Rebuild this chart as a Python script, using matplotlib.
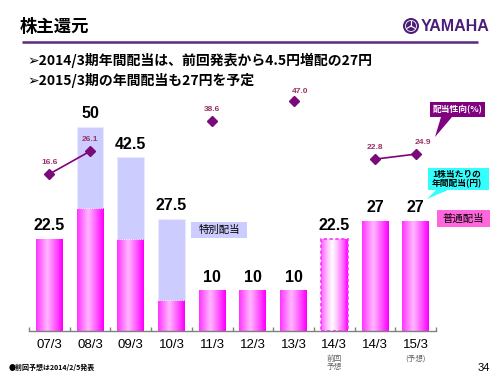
import numpy as np
import matplotlib
matplotlib.use("Agg")
import matplotlib.pyplot as plt
from matplotlib.patches import Rectangle, Polygon, Circle

# ---------------- data ----------------
categories = ['07/3', '08/3', '09/3', '10/3', '11/3', '12/3', '13/3', '14/3', '14/3', '15/3']
ordinary = [22.5, 30, 22.5, 7.5, 10, 10, 10, 22.5, 27, 27]
special = [0, 20, 20, 20, 0, 0, 0, 0, 0, 0]
payout = [16.6, 26.1, np.nan, np.nan, 38.6, np.nan, 47.0, np.nan, 22.8, 24.9]
forecast_index = 7
sub_labels = {7: '前回\n予想', 9: '(予想)'}

JP = ['Noto Sans CJK JP', 'DejaVu Sans']
LAT = ['Liberation Sans', 'Noto Sans CJK JP', 'DejaVu Sans']

W, H = 500, 375
fig = plt.figure(figsize=(5, 3.75), dpi=100)
fig.patch.set_facecolor('white')

# main axes (pixel layout)
left_px, right_px, base_px, top_px = 29, 436, 331, 95
ax = fig.add_axes([left_px / W, 1 - base_px / H, (right_px - left_px) / W, (base_px - top_px) / H])
ax.set_facecolor('none')

x = np.arange(len(categories))
bw = 0.66
totals = [o + s for o, s in zip(ordinary, special)]


def grad(light, power=1.0):
    t = np.linspace(0, 1, 80)
    w = np.clip(1 - np.abs(t - 0.42) / 0.55, 0, 1) ** power
    base = np.array([1.0, 0.0, 1.0])
    top = np.array(light)
    img = base[None, :] + (top - base)[None, :] * w[:, None]
    return img[None, :, :]


ord_bars = ax.bar(x, ordinary, width=bw, color='none', edgecolor='none', zorder=2)
for i, p in enumerate(ord_bars.patches):
    x0, y0 = p.get_x(), p.get_y()
    x1, y1 = x0 + p.get_width(), y0 + p.get_height()
    if i == forecast_index:
        img = grad([1.0, 1.0, 1.0], 0.7)
    else:
        img = grad([1.0, 0.72, 1.0], 0.9)
    im = ax.imshow(img, extent=[x0, x1, y0, y1], aspect='auto', interpolation='bilinear', zorder=2)
    im.set_clip_path(p)
    if i == forecast_index:
        ax.add_patch(Rectangle((x0, y0), x1 - x0, y1 - y0, facecolor='none',
                               edgecolor='#FF33FF', linestyle=(0, (2, 1.5)), linewidth=1.2, zorder=3))

sp = ax.bar(x, special, width=bw, bottom=ordinary, color='#CCCCFF',
            edgecolor='#EEEEFF', linestyle=(0, (1, 1)), linewidth=0.8, zorder=2)
for i, p in enumerate(sp.patches):
    if special[i] == 0:
        p.set_visible(False)

for i, t in enumerate(totals):
    ax.annotate(f"{t:g}", (x[i], t), xytext=(0, 4), textcoords='offset points',
                ha='center', va='bottom', fontsize=11.5, fontweight='bold',
                family=LAT, color='black', zorder=5)

ax.set_xlim(-0.5, len(categories) - 0.5)
ax.set_ylim(0, (base_px - top_px) / 4.09)
for s in ['top', 'right', 'left']:
    ax.spines[s].set_visible(False)
ax.spines['bottom'].set_color('#808080')
ax.spines['bottom'].set_linewidth(1.0)
ax.set_yticks([])
ax.set_xticks(x)
ax.set_xticklabels(categories, fontsize=9.5, family=LAT)
ax.tick_params(axis='x', which='major', length=0, pad=6)
ax.set_xticks(np.arange(-0.5, len(categories), 1.0), minor=True)
ax.tick_params(axis='x', which='minor', direction='in', length=3, color='#808080', width=1.0)

# secondary axis for payout ratio
ax2 = ax.twinx()
ax2.set_ylim((213.9 - base_px) / 2.401, (213.9 - top_px) / 2.401)
ax2.set_xlim(-0.5, len(categories) - 0.5)
ax2.axis('off')
ax2.plot(x, payout, color='#800080', linewidth=1.2, marker='D', markersize=5,
         markerfacecolor='#7A0A7A', markeredgecolor='#7A0A7A', zorder=4)
offs = {6: (5, 4), 9: (5, 6)}
for i, v in enumerate(payout):
    if np.isnan(v):
        continue
    dx, dy = offs.get(i, (0, 6))
    ax2.annotate(f"{v:.1f}", (x[i], v), xytext=(dx, dy), textcoords='offset points',
                 ha='center', va='bottom', fontsize=6, fontweight='bold',
                 family=LAT, color='#993366', zorder=5)

# overlay in pixel coordinates
ov = fig.add_axes([0, 0, 1, 1])
ov.set_xlim(0, W)
ov.set_ylim(H, 0)
ov.axis('off')
ov.set_zorder(10)
ov.patch.set_visible(False)

# title and header
ov.text(20, 27, '株主還元', fontsize=12.5, fontweight='bold', family=JP, va='center', ha='left', color='black')
ov.plot([22, 478], [42, 42], color='#5A2A82', linewidth=1.8, solid_capstyle='butt')
ov.add_patch(Circle((411, 26), 8, facecolor='#4B1E78', edgecolor='none'))
ov.add_patch(Circle((411, 26), 5.5, facecolor='none', edgecolor='white', linewidth=0.6))
for ang in [90, 210, 330]:
    a = np.deg2rad(ang)
    ov.plot([411, 411 + 5 * np.cos(a)], [26, 26 - 5 * np.sin(a)], color='white', linewidth=0.8)
ov.text(421, 26.5, 'YAMAHA', fontsize=11.5, fontweight='bold', family=['Liberation Sans Narrow', 'Liberation Sans'],
        va='center', ha='left', color='#4B1E78')

ov.text(27, 60, '➢2014/3期年間配当は、前回発表から4.5円増配の27円', fontsize=10, fontweight='bold',
        family=JP, va='center', ha='left', color='black')
ov.text(27, 80, '➢2015/3期の年間配当も27円を予定', fontsize=10, fontweight='bold',
        family=JP, va='center', ha='left', color='black')

# legend boxes
ov.add_patch(Rectangle((191, 222), 56, 16, facecolor='#CCCCFF', edgecolor='none'))
ov.text(219, 230, '特別配当', fontsize=7.5, family=JP, ha='center', va='center', color='black')
ov.add_patch(Rectangle((437, 210), 53, 17, facecolor='#FF66DD', edgecolor='none'))
ov.text(463.5, 218.5, '普通配当', fontsize=7.5, family=JP, ha='center', va='center', color='black')

# callouts
ov.add_patch(Polygon([(430, 102), (485, 102), (485, 117), (452, 117), (435, 137), (441, 117), (430, 117)],
                     closed=True, facecolor='#800080', edgecolor='none'))
ov.text(457.5, 109.5, '配当性向(%)', fontsize=6.3, fontweight='bold', family=JP, color='white',
        ha='center', va='center')
ov.add_patch(Polygon([(428, 168), (489, 168), (489, 190), (448, 190), (427, 199), (436, 190), (428, 190)],
                     closed=True, facecolor='#33FFFF', edgecolor='none'))
ov.text(432, 179, '1株当たりの\n年間配当(円)', fontsize=6.3, fontweight='bold', family=JP, color='black',
        ha='left', va='center', linespacing=1.1)

# sub labels under ticks
for i, s in sub_labels.items():
    px = left_px + (i + 0.5) * (right_px - left_px) / len(categories)
    ov.text(px, 355, s, fontsize=5.5, family=JP, color='#606060', ha='center', va='top', linespacing=1.0)

# footer
ov.text(9, 367, '●前回予想は2014/2/5発表', fontsize=5, fontweight='bold', family=JP, ha='left', va='center')
ov.text(490, 368, '34', fontsize=8, family=LAT, ha='right', va='center')

fig.savefig('out.png', dpi=100, facecolor='white')
